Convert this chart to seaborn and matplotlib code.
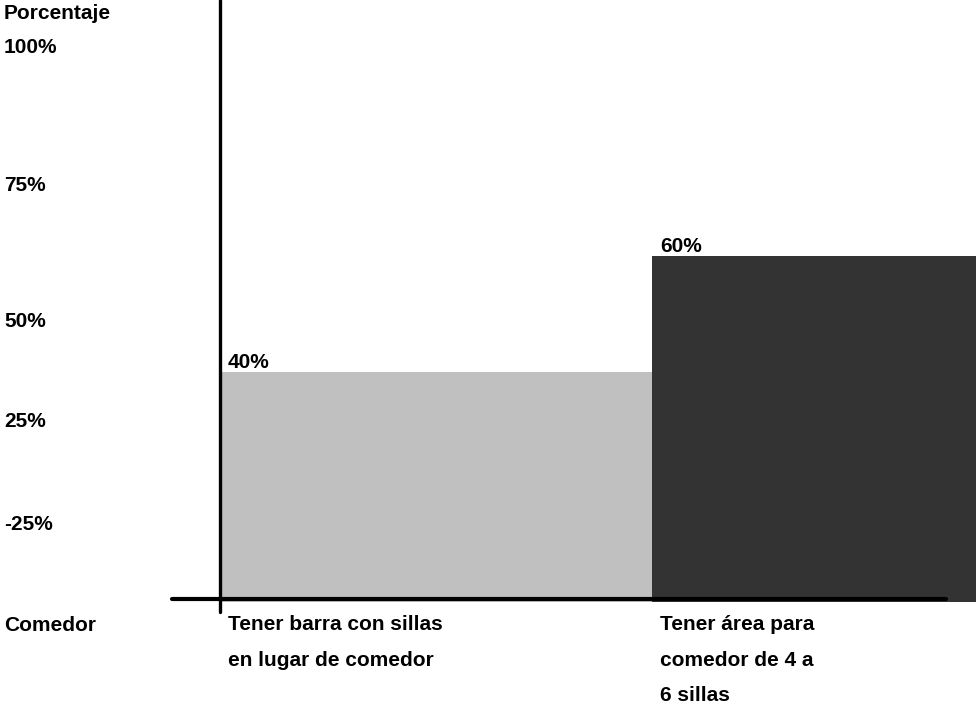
import matplotlib
matplotlib.use("Agg")
import matplotlib.pyplot as plt
from matplotlib.lines import Line2D
import seaborn as sns
import pandas as pd

# Data
categories = ["Tener barra con sillas\nen lugar de comedor",
              "Tener área para\ncomedor de 4 a\n6 sillas"]
values = [40, 60]
bar_colors = ["#c0c0c0", "#333333"]
y_title = "Porcentaje"
x_title = "Comedor"
y_tick_labels = ["100%", "75%", "50%", "25%", "-25%"]

sns.set_theme(style="white")
plt.rcParams["font.family"] = ["Liberation Sans", "DejaVu Sans"]
plt.rcParams["font.weight"] = "bold"
plt.rcParams["text.color"] = "black"

W, H = 976, 704
DPI = 100
FS = 15.0
fig = plt.figure(figsize=(W / DPI, H / DPI), dpi=DPI)

# axes geometry in pixels
ax_left, ax_right = 220, 976
ax_bottom = 602          # value 0
px_per_unit = 5.76       # pixels per percentage point
px_per_cat = 432         # pixels per category slot

ax = fig.add_axes([ax_left / W, (H - ax_bottom) / H,
                   (ax_right - ax_left) / W, ax_bottom / H])

df = pd.DataFrame({"cat": categories, "val": values})
sns.barplot(data=df, x="cat", y="val", hue="cat", palette=bar_colors,
            width=1.0, legend=False, ax=ax, saturation=1, linewidth=0)

ax.set_xlim(-0.5, -0.5 + (ax_right - ax_left) / px_per_cat)
ax.set_ylim(0, ax_bottom / px_per_unit)
ax.set_axis_off()

# value labels just above each bar, left-aligned
for i, v in enumerate(values):
    ax.text(i - 0.5 + 8 / px_per_cat, v + 4 / px_per_unit, f"{v}%",
            ha="left", va="baseline", fontsize=FS, fontweight="bold",
            color="black")

def fx(px):
    return px / W

def fy(py):
    return 1 - py / H

# vertical axis line and baseline
fig.add_artist(Line2D([fx(220), fx(220)], [fy(0), fy(612)],
                      color="black", lw=2.4))
fig.add_artist(Line2D([fx(172), fx(946)], [fy(599), fy(599)],
                      color="black", lw=3.0))

# y-axis title and tick labels
fig.text(fx(4), fy(19), y_title, ha="left", va="baseline",
         fontsize=FS, fontweight="bold", color="black")
tick_baselines = [53, 191, 327, 427, 530]
for lab, yb in zip(y_tick_labels, tick_baselines):
    fig.text(fx(4), fy(yb), lab, ha="left", va="baseline",
             fontsize=FS, fontweight="bold", color="black")

# x-axis title and category labels
fig.text(fx(4), fy(631), x_title, ha="left", va="baseline",
         fontsize=FS, fontweight="bold", color="black")
line_step = 35.5
for i, cat in enumerate(categories):
    x0 = ax_left + i * px_per_cat + 8
    for j, line in enumerate(cat.split("\n")):
        fig.text(fx(x0), fy(630 + j * line_step), line, ha="left",
                 va="baseline", fontsize=FS, fontweight="bold",
                 color="black")

fig.savefig("out.png", dpi=DPI)
